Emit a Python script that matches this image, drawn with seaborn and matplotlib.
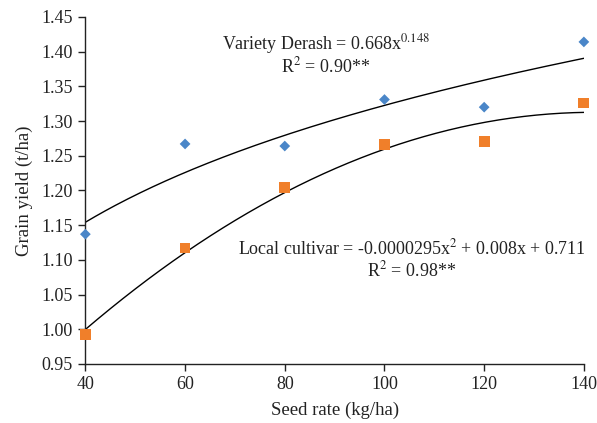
import numpy as np
import pandas as pd
import matplotlib
matplotlib.use("Agg")
import matplotlib.pyplot as plt
import seaborn as sns

# --- Daten ---
seed_rate = [40, 60, 80, 100, 120, 140]
derash_yield = [1.137, 1.267, 1.264, 1.331, 1.320, 1.414]
local_yield = [0.993, 1.117, 1.204, 1.266, 1.271, 1.326]

sns.set_style("ticks")
plt.rcParams['font.family'] = ['Liberation Serif', 'DejaVu Serif']
plt.rcParams['mathtext.fontset'] = 'stix'

df = pd.DataFrame({"rate": seed_rate, "derash": derash_yield, "local": local_yield})

# Trendlinien aus den Daten anpassen
xs = np.linspace(40, 140, 200)
b, ln_a = np.polyfit(np.log(df["rate"]), np.log(df["derash"]), 1)
power_fit = np.exp(ln_a) * xs ** b
quad = np.polyfit(df["rate"], df["local"], 2)
quad_fit = np.polyval(quad, xs)
df_fit = pd.DataFrame({"x": xs, "power": power_fit, "quad": quad_fit})

fig = plt.figure(figsize=(5.97, 4.23), dpi=100)
ax = fig.add_axes([0.143, 0.1395, 0.835, 0.8205])

sns.lineplot(data=df_fit, x="x", y="power", color="black", linewidth=1.0, ax=ax)
sns.lineplot(data=df_fit, x="x", y="quad", color="black", linewidth=1.0, ax=ax)
sns.scatterplot(data=df, x="rate", y="derash", marker="D", color="#4A86C8",
                s=30, edgecolor="none", ax=ax, zorder=3, clip_on=False)
sns.scatterplot(data=df, x="rate", y="local", marker="s", color="#F07F2A",
                s=60, edgecolor="none", ax=ax, zorder=3, clip_on=False)

ax.set_xlim(40, 140)
ax.set_ylim(0.95, 1.45)
ax.set_xticks(seed_rate)
ax.set_yticks(np.arange(0.95, 1.451, 0.05))
ax.set_yticklabels([f"{v:.2f}" for v in np.arange(0.95, 1.451, 0.05)])
ax.tick_params(axis="both", labelsize=13, direction="out", length=5, width=1,
               colors="#222222", pad=4)
for sp in ["left", "bottom"]:
    ax.spines[sp].set_color("#222222")
    ax.spines[sp].set_linewidth(1)
sns.despine(ax=ax)

ax.set_xlabel("Seed rate (kg/ha)", fontsize=13.5, color="#222222", labelpad=6)
ax.set_ylabel("Grain yield (t/ha)", fontsize=13.5, color="#222222", labelpad=6)

ax.text(0.482, 0.922, r"Variety Derash = 0.668x$^{0.148}$", transform=ax.transAxes,
        ha="center", va="center", fontsize=13, color="#222222")
ax.text(0.482, 0.856, r"R$^{2}$ = 0.90**", transform=ax.transAxes,
        ha="center", va="center", fontsize=13, color="#222222")
ax.text(0.655, 0.334, r"Local cultivar = -0.0000295x$^{2}$ + 0.008x + 0.711", transform=ax.transAxes,
        ha="center", va="center", fontsize=13, color="#222222")
ax.text(0.655, 0.271, r"R$^{2}$ = 0.98**", transform=ax.transAxes,
        ha="center", va="center", fontsize=13, color="#222222")

fig.savefig("out.png", dpi=100)
